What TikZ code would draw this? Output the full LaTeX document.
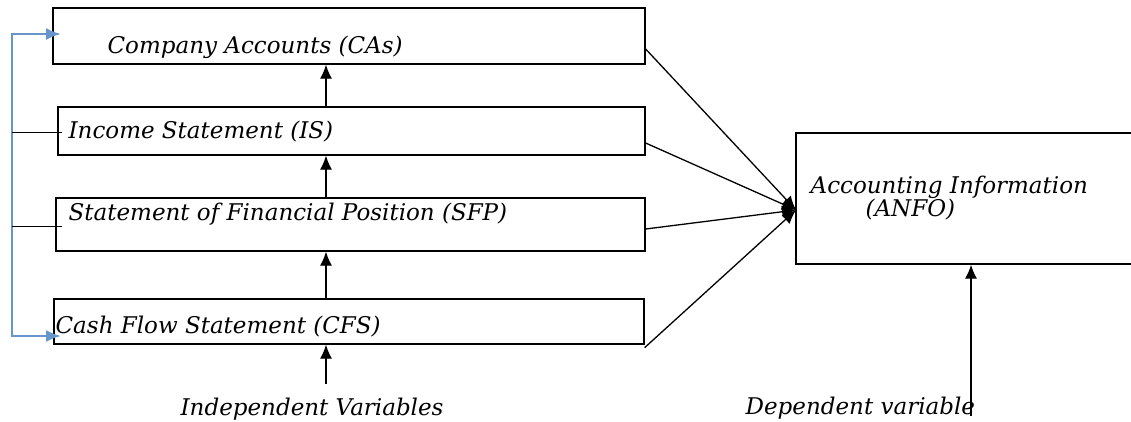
\documentclass[tikz,border=0pt]{standalone}
\usepackage{fontspec}
\usetikzlibrary{arrows.meta}
\setmainfont{DejaVu Serif}
\definecolor{linkblue}{RGB}{104,150,204}
\begin{document}
\begin{tikzpicture}[x=1pt, y=-1pt, line width=1.3pt,
  >={Latex[length=14pt,width=12pt]},
  box/.style={draw, rectangle, inner sep=0pt},
  lbl/.style={anchor=base west, inner sep=0pt, font=\fontsize{23}{26}\selectfont\itshape}]

\useasboundingbox (0,0) rectangle (1131,421);

% variable boxes
\node[box, minimum width=592, minimum height=56] (ca) at (349,36) {};
\node[box, minimum width=587, minimum height=48] (is) at (351.5,131) {};
\node[box, minimum width=589, minimum height=53] (sfp) at (350.5,224.5) {};
\node[box, minimum width=590, minimum height=45] (cfs) at (349,321.5) {};
\node[box, minimum width=350, minimum height=131] (anfo) at (971,198.5) {};

% texts
\node[lbl] (catxt) at (107,53) {Company Accounts (CAs)};
\node[lbl] (istxt) at (68,138) {Income Statement (IS)};
\node[lbl] (sfptxt) at (68,220) {Statement of Financial Position (SFP)};
\node[lbl] (cfstxt) at (55,333) {Cash Flow Statement (CFS)};
\node[lbl] (anfotxt) at (810,193) {Accounting Information};
\node[lbl] (anfotxtb) at (865,216) {(ANFO)};
\node[lbl] (indep) at (180,415) {Independent Variables};
\node[lbl] (dep) at (745,414) {Dependent variable};

% vertical arrows
\coordinate (mid) at (326,0);
\coordinate (ivtop) at (326,384);
\draw[->] (mid |- is.north) -- (mid |- ca.south);
\draw[->] (mid |- sfp.north) -- (mid |- is.south);
\draw[->] (mid |- cfs.north) -- (mid |- sfp.south);
\draw[->] (ivtop) -- (mid |- cfs.south);
\coordinate (dvbot) at (971,416);
\draw[->] (dvbot) -- (dvbot |- anfo.south);

% links to the dependent variable
\coordinate (meet) at (796,210);
\draw[->] ([yshift=-13pt]ca.east) -- (meet);
\draw[->] ([yshift=-12pt]is.east) -- (meet);
\draw[->] ([yshift=-4.5pt]sfp.east) -- (meet);
\draw[->] ([yshift=-3pt]cfs.south east) -- (meet);

% feedback on the left
\coordinate (catip) at (61,34);
\coordinate (cfstip) at (61,336);
\coordinate (lbot) at (12,336);
\draw[linkblue, line width=2.2pt, <->, >={Latex[length=15pt,width=12pt]}] (catip) -| (lbot) -- (cfstip);
\draw[line width=1pt] (12,132) -- (62,132);
\draw[line width=1pt] (12,226) -- (62,226);
\end{tikzpicture}
\end{document}
